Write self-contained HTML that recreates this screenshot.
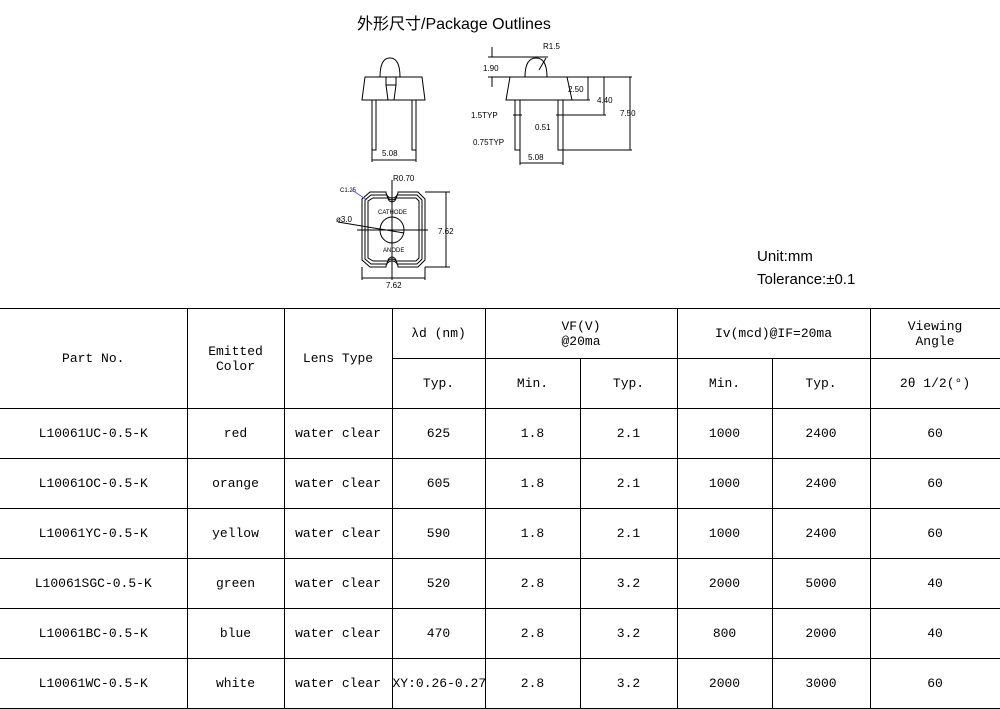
<!DOCTYPE html>
<html><head><meta charset="utf-8"><style>
body{margin:0;width:1000px;height:702px;overflow:hidden;background:#fff;font-family:"Liberation Mono","Noto Sans CJK SC",monospace;}
.t{position:absolute;font-family:"Liberation Sans","Noto Sans CJK SC",sans-serif;color:#000}
table{position:absolute;left:0;top:308px;border-collapse:collapse;font-size:13px;table-layout:fixed;width:1000px}
td{border:1px solid #000;text-align:center;padding:0;height:49px;white-space:nowrap;overflow:hidden}
</style></head><body>
<div class="t" style="left:357px;top:10px;font-size:16px">外形尺寸/Package Outlines</div>
<div class="t" style="left:757px;top:248px;font-size:15px">Unit:mm</div>
<div class="t" style="left:757px;top:271px;font-size:15px">Tolerance:±0.1</div>
<svg width="1000" height="300" style="position:absolute;left:0;top:0" fill="none" stroke="#000" stroke-width="1" font-family="Liberation Sans" font-size="8">
<path d="M380 77 Q380 58 390 58 Q400 58 400 77"/>
<path d="M365 77 L422 77 L425 100 L362 100 Z"/>
<path d="M386 77 L386 85 L396 85 L396 77 M386 85 L388 100 M396 85 L394 100"/>
<path d="M372 100 V150 H376 V100 M412 100 V150 H416 V100"/>
<path d="M372 150 V162 M416 150 V162 M372 160 H416"/>
<text x="382" y="156" fill="#000" stroke="none">5.08</text>
<path d="M525 77 Q525 58 536 58 Q547 58 547 77"/>
<path d="M510 77 L567 77 L572 100 L506 100 Z"/>
<path d="M515 100 V150 H520 V100 M558 100 V150 H563 V100"/>
<path d="M513 115 H522 M556 115 H565"/>
<path d="M488 57 H548 M488 77 H510 M492 47 V57 M492 77 V87"/>
<path d="M567 77 H632 M572 100 H590 M565 115 H606 M563 150 H632"/>
<path d="M588 77 V100 M604 77 V115 M630 77 V150"/>
<path d="M520 150 V165 M563 150 V165 M520 163 H563"/>
<path d="M539 70 L546 58"/>
<text x="543" y="49" fill="#000" stroke="none">R1.5</text>
<text x="483" y="71" fill="#000" stroke="none">1.90</text>
<text x="568" y="92" fill="#000" stroke="none">2.50</text>
<text x="597" y="103" fill="#000" stroke="none">4.40</text>
<text x="620" y="116" fill="#000" stroke="none">7.50</text>
<text x="471" y="118" fill="#000" stroke="none">1.5TYP</text>
<text x="535" y="130" fill="#000" stroke="none">0.51</text>
<text x="473" y="145" fill="#000" stroke="none">0.75TYP</text>
<text x="528" y="160" fill="#000" stroke="none">5.08</text>
<path d="M370 192 H386 A6 6 0 0 0 398 192 H418 L425 199 V260 L418 267 H398 A6 6 0 0 0 386 267 H370 L362 260 V199 Z"/>
<path d="M371 195 H387 A5 5 0 0 0 397 195 H417 L422 200 V259 L417 264 H397 A5 5 0 0 0 387 264 H371 L365 259 V200 Z"/>
<path d="M373 198 H388 A4 4 0 0 0 396 198 H416 L419 201 V258 L416 261 H396 A4 4 0 0 0 388 261 H373 L368 258 V201 Z"/>
<ellipse cx="392" cy="230" rx="12" ry="13"/>
<path d="M357 230 H428 M392 180 V280 M338 222 L404 233"/>
<path d="M425 192 H450 M425 267 H450 M446 192 V267 M362 267 V280 M425 267 V280 M362 278 H425"/>
<text x="378" y="214" fill="#000" stroke="none" font-size="6">CATHODE</text>
<text x="383" y="252" fill="#000" stroke="none" font-size="6">ANODE</text>
<text x="393" y="181" fill="#000" stroke="none">R0.70</text>
<text x="340" y="192" fill="#000" stroke="none" font-size="6">C1.25</text>
<text x="336" y="222" fill="#000" stroke="none">ø3.0</text>
<text x="438" y="234" fill="#000" stroke="none">7.62</text>
<text x="386" y="288" fill="#000" stroke="none">7.62</text>
<path d="M352 190 L367 200" stroke="#55f"/>
</svg>
<table>
<colgroup><col style="width:187px"><col style="width:97px"><col style="width:108px"><col style="width:93px"><col style="width:95px"><col style="width:97px"><col style="width:95px"><col style="width:98px"><col style="width:130px"></colgroup>
<tr><td rowspan="2" style="border-left:none">Part No.</td><td rowspan="2">Emitted<br>Color</td><td rowspan="2">Lens Type</td><td>λd (nm)</td><td colspan="2">VF(V)<br>@20ma</td><td colspan="2">Iv(mcd)@IF=20ma</td><td>Viewing<br>Angle</td></tr>
<tr><td>Typ.</td><td>Min.</td><td>Typ.</td><td>Min.</td><td>Typ.</td><td>2θ 1/2(°)</td></tr>
<tr><td style="border-left:none">L10061UC-0.5-K</td><td>red</td><td>water clear</td><td>625</td><td>1.8</td><td>2.1</td><td>1000</td><td>2400</td><td>60</td></tr>
<tr><td style="border-left:none">L10061OC-0.5-K</td><td>orange</td><td>water clear</td><td>605</td><td>1.8</td><td>2.1</td><td>1000</td><td>2400</td><td>60</td></tr>
<tr><td style="border-left:none">L10061YC-0.5-K</td><td>yellow</td><td>water clear</td><td>590</td><td>1.8</td><td>2.1</td><td>1000</td><td>2400</td><td>60</td></tr>
<tr><td style="border-left:none">L10061SGC-0.5-K</td><td>green</td><td>water clear</td><td>520</td><td>2.8</td><td>3.2</td><td>2000</td><td>5000</td><td>40</td></tr>
<tr><td style="border-left:none">L10061BC-0.5-K</td><td>blue</td><td>water clear</td><td>470</td><td>2.8</td><td>3.2</td><td>800</td><td>2000</td><td>40</td></tr>
<tr><td style="border-left:none">L10061WC-0.5-K</td><td>white</td><td>water clear</td><td>XY:0.26-0.27</td><td>2.8</td><td>3.2</td><td>2000</td><td>3000</td><td>60</td></tr>
</table>
</body></html>
